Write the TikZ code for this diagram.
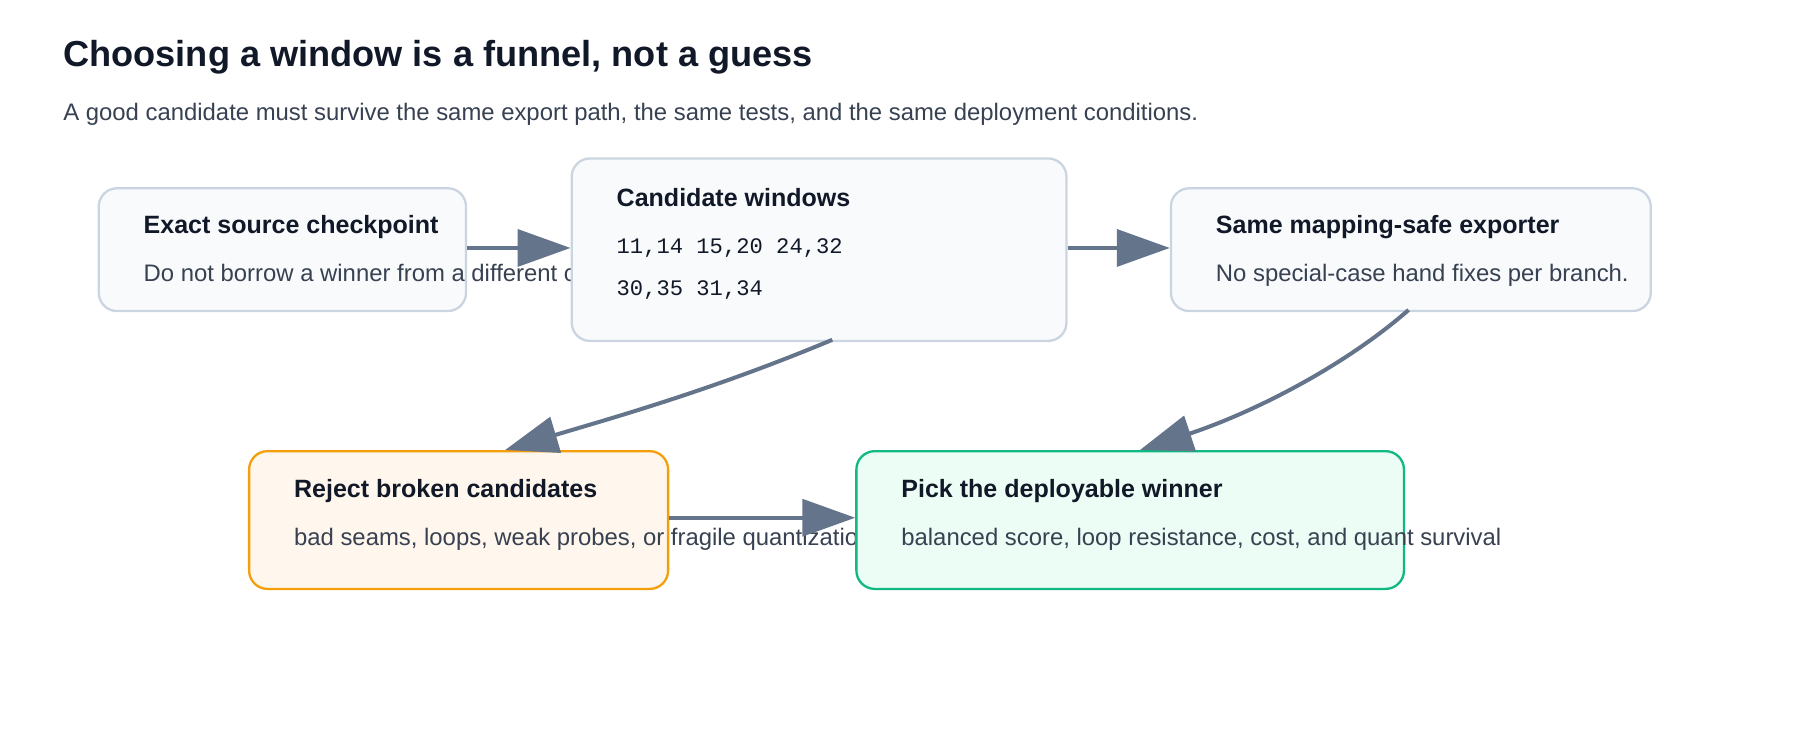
\documentclass[tikz,border=0pt]{standalone}
\usepackage{fontspec}
\setmainfont{Liberation Sans}
\setmonofont{Liberation Mono}
\usetikzlibrary{arrows.meta}
\definecolor{ink}{HTML}{111827}
\definecolor{sub}{HTML}{374151}
\definecolor{edge}{HTML}{64748B}
\definecolor{gb}{HTML}{CBD5E1}
\definecolor{gf}{HTML}{F8FAFC}
\definecolor{ob}{HTML}{F59E0B}
\definecolor{of}{HTML}{FFF7ED}
\definecolor{eb}{HTML}{10B981}
\definecolor{ef}{HTML}{ECFDF5}
\begin{document}
\begin{tikzpicture}[x=1pt,y=-1pt,
  box/.style={draw=gb,fill=gf,line width=2pt,rounded corners=16pt,anchor=north west,inner sep=0pt},
  ttl/.style={anchor=west,inner sep=0pt,font=\fontsize{21.8}{24}\selectfont\bfseries,text=ink},
  txt/.style={anchor=west,inner sep=0pt,font=\fontsize{20.8}{24}\selectfont,text=sub},
  mono/.style={anchor=west,inner sep=0pt,font=\fontsize{19.3}{22}\ttfamily,text=ink},
  arr/.style={draw=edge,line width=3.5pt,-{Triangle[length=46pt,width=32pt]}}]
\useasboundingbox (0,0) rectangle (1568,653);
\node[anchor=west,inner sep=0pt,font=\fontsize{31.5}{36}\selectfont\bfseries,text=ink] (title) at (55,50) {Choosing a window is a funnel, not a guess};
\node[txt] (subt) at (55,100) {A good candidate must survive the same export path, the same tests, and the same deployment conditions.};
% A
\node[box,minimum width=320pt,minimum height=107pt] (A) at (85,163) {};
\node[ttl] (At) at (125,198) {Exact source checkpoint};
\node[txt] (As) at (125,240) {Do not borrow a winner from a different checkpoint.};
% D
\node[box,draw=ob,fill=of,minimum width=365pt,minimum height=120pt] (D) at (216,392) {};
\node[ttl] (Dt) at (256,428) {Reject broken candidates};
\node[txt] (Ds) at (256,470) {bad seams, loops, weak probes, or fragile quantization};
% B
\node[box,minimum width=431pt,minimum height=159pt] (B) at (497,137) {};
\node[ttl] (Bt) at (537,172) {Candidate windows};
\node[mono] (B1) at (537,216) {11,14 15,20 24,32};
\node[mono] (B2) at (537,253) {30,35 31,34};
% C
\node[box,minimum width=418pt,minimum height=107pt] (C) at (1019,163) {};
\node[ttl] (Ct) at (1059,198) {Same mapping-safe exporter};
\node[txt] (Cs) at (1059,240) {No special-case hand fixes per branch.};
% E
\node[box,draw=eb,fill=ef,minimum width=477pt,minimum height=120pt] (E) at (745,392) {};
\node[ttl] (Et) at (785,428) {Pick the deployable winner};
\node[txt] (Es) at (785,470) {balanced score, loop resistance, cost, and quant survival};
% arrows
\draw[arr] (A.east |- 0,216) -- (B.west |- 0,216);
\draw[arr] (B.east |- 0,216) -- (C.west |- 0,216);
\draw[arr] (725,296) .. controls (620,340) and (530,365) .. (440,392);
\draw[arr] (1227,270) .. controls (1170,320) and (1090,360) .. (993,392);
\draw[arr] (D.east |- 0,451) -- (E.west |- 0,451);
\end{tikzpicture}
\end{document}
